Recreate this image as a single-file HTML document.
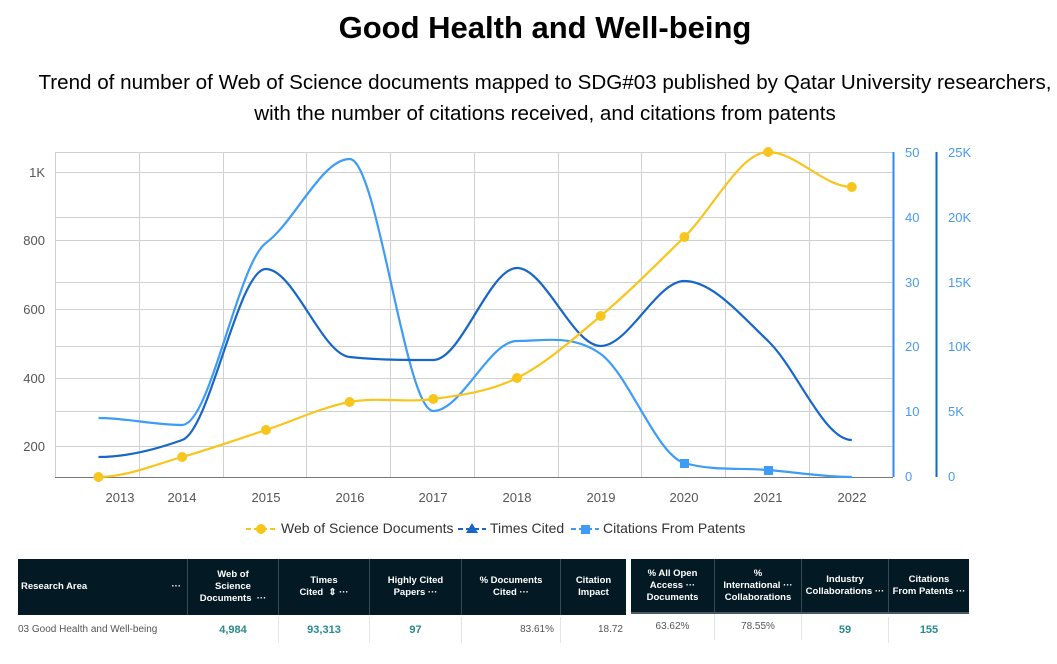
<!DOCTYPE html>
<html><head><meta charset="utf-8"><style>
body{margin:0;width:1057px;height:664px;background:#fff;font-family:"Liberation Sans",sans-serif;overflow:hidden;position:relative}
.t{position:absolute;left:0;width:1090px;text-align:center;color:#000}
.hd{position:absolute;background:#031a24;color:#fff;font-weight:bold;font-size:9.5px;display:flex;align-items:center;justify-content:center;text-align:center;line-height:12px;box-sizing:border-box;border-right:1px solid #3a4a52}
.cell{position:absolute;font-size:10px;color:#555;text-align:center;box-sizing:border-box;border-right:1px solid #e4e4e4;height:26px;line-height:26px}
.g{color:#2a8a8a;font-weight:bold;font-size:11px}
</style></head><body>
<div class="t" style="top:10px;font-size:31px;font-weight:bold">Good Health and Well-being</div>
<div class="t" style="top:67px;font-size:20.6px;line-height:31px">Trend of number of Web of Science documents mapped to SDG#03 published by Qatar University researchers,<br>with the number of citations received, and citations from patents</div>

<svg width="1057" height="550" style="position:absolute;left:0;top:0" font-family="Liberation Sans, sans-serif">
<g stroke="#d0d0d0" stroke-width="1">
<line x1="55" x2="893" y1="152.5" y2="152.5"/><line x1="55" x2="893" y1="217.5" y2="217.5"/><line x1="55" x2="893" y1="282.5" y2="282.5"/><line x1="55" x2="893" y1="346.5" y2="346.5"/><line x1="55" x2="893" y1="411.5" y2="411.5"/>
<line x1="55" x2="893" y1="172.5" y2="172.5"/><line x1="55" x2="893" y1="240.5" y2="240.5"/><line x1="55" x2="893" y1="309.5" y2="309.5"/><line x1="55" x2="893" y1="378.5" y2="378.5"/><line x1="55" x2="893" y1="446.5" y2="446.5"/>
<line x1="55.5" x2="55.5" y1="152" y2="477"/>
<line x1="139.5" x2="139.5" y1="152" y2="477"/><line x1="223.5" x2="223.5" y1="152" y2="477"/><line x1="306.5" x2="306.5" y1="152" y2="477"/><line x1="390.5" x2="390.5" y1="152" y2="477"/><line x1="474.5" x2="474.5" y1="152" y2="477"/><line x1="558.5" x2="558.5" y1="152" y2="477"/><line x1="641.5" x2="641.5" y1="152" y2="477"/><line x1="725.5" x2="725.5" y1="152" y2="477"/><line x1="809.5" x2="809.5" y1="152" y2="477"/>
</g>
<line x1="55" x2="893" y1="477.5" y2="477.5" stroke="#777"/>
<line x1="893.5" x2="893.5" y1="152" y2="477" stroke="#2d8cf0" stroke-width="2"/>
<line x1="936.5" x2="936.5" y1="152" y2="477" stroke="#1766c8" stroke-width="2"/>
<g font-size="13" fill="#555" text-anchor="end">
<text x="45" y="177">1K</text><text x="45" y="245">800</text><text x="45" y="314">600</text><text x="45" y="383">400</text><text x="45" y="451">200</text>
</g>
<g font-size="13" fill="#4a9af0">
<text x="905" y="157">50</text><text x="905" y="222">40</text><text x="905" y="287">30</text><text x="905" y="351">20</text><text x="905" y="416">10</text><text x="905" y="481">0</text>
<text x="948" y="157">25K</text><text x="948" y="222">20K</text><text x="948" y="287">15K</text><text x="948" y="351">10K</text><text x="948" y="416">5K</text><text x="948" y="481">0</text>
</g>
<g font-size="13" fill="#555" text-anchor="middle">
<text x="120" y="502">2013</text><text x="182" y="502">2014</text><text x="266" y="502">2015</text><text x="350" y="502">2016</text><text x="433" y="502">2017</text><text x="517" y="502">2018</text><text x="601" y="502">2019</text><text x="684" y="502">2020</text><text x="768" y="502">2021</text><text x="852" y="502">2022</text>
</g>
<path fill="none" stroke="#3d9cf5" stroke-width="2.2" d="M98.5,418 C126.4,418 154.3,425 182.2,425 C210.1,425 238,263 265.9,243 C293.8,223 321.7,159 349.6,159 C377.5,159 405.4,411 433.3,411 C461.2,411 489.1,341 517,341 C544.9,341 572.8,334 600.7,354 C628.6,374 656.5,455 684.4,463 C712.3,471 740.2,467.7 768.1,470 C796,472.3 823.9,477 851.8,477"/>
<path fill="none" stroke="#1766c8" stroke-width="2.2" d="M98.5,457 C126.4,457 154.3,450 182.2,440 C210.1,430 238,269 265.9,269 C293.8,269 321.7,354 349.6,357 C377.5,360 405.4,360 433.3,360 C461.2,360 489.1,268 517,268 C544.9,268 572.8,346 600.7,346 C628.6,346 656.5,281 684.4,281 C712.3,281 740.2,314.5 768.1,341 C796,367.5 823.9,440 851.8,440"/>
<path fill="none" stroke="#f8c51c" stroke-width="2.2" d="M98.5,477 C126.4,477 154.3,464.8 182.2,457 C210.1,449.2 238,439.2 265.9,430 C293.8,420.8 321.7,407.2 349.6,402 C377.5,396.8 405.4,403 433.3,399 C461.2,395 489.1,391.8 517,378 C544.9,364.2 572.8,339.5 600.7,316 C628.6,292.5 656.5,264.3 684.4,237 C712.3,209.7 740.2,152 768.1,152 C796,152 823.9,187 851.8,187"/>
<g fill="#f8c51c">
<circle cx="98.5" cy="477" r="5"/><circle cx="182.2" cy="457" r="5"/><circle cx="265.9" cy="430" r="5"/><circle cx="349.6" cy="402" r="5"/><circle cx="433.3" cy="399" r="5"/><circle cx="517" cy="378" r="5"/><circle cx="600.7" cy="316" r="5"/><circle cx="684.4" cy="237" r="5"/><circle cx="768.1" cy="152" r="5"/><circle cx="851.8" cy="187" r="5"/>
</g>
<g fill="#3d9cf5"><rect x="680" y="459" width="9" height="9"/><rect x="764" y="466" width="9" height="9"/></g>
<g font-size="14" fill="#333">
<line x1="246" x2="276" y1="529" y2="529" stroke="#f8c51c" stroke-width="2" stroke-dasharray="5,3"/><circle cx="261" cy="529" r="5" fill="#f8c51c"/>
<text x="281" y="533">Web of Science Documents</text>
<line x1="458" x2="486" y1="529" y2="529" stroke="#1766c8" stroke-width="2" stroke-dasharray="5,3"/><path d="M472,523 L478,533 L466,533Z" fill="#1766c8"/>
<text x="490" y="533">Times Cited</text>
<line x1="571" x2="599" y1="529" y2="529" stroke="#3d9cf5" stroke-width="2" stroke-dasharray="5,3"/><rect x="581" y="525" width="9" height="9" fill="#3d9cf5"/>
<text x="603" y="533">Citations From Patents</text>
</g>
</svg>

<div class="hd" style="left:18px;top:559px;width:170px;height:56px;justify-content:space-between;padding:0 6px 0 3px"><span>Research Area</span><span>···</span></div>
<div class="hd" style="left:188px;top:559px;width:91px;height:56px">Web of<br>Science<br>Documents &nbsp;···</div>
<div class="hd" style="left:279px;top:559px;width:91px;height:56px">Times<br>Cited &nbsp;⇕ ···</div>
<div class="hd" style="left:370px;top:559px;width:92px;height:56px">Highly Cited<br>Papers ···</div>
<div class="hd" style="left:462px;top:559px;width:99px;height:56px">% Documents<br>Cited ···</div>
<div class="hd" style="left:561px;top:559px;width:65px;height:56px;border-right:none">Citation<br>Impact</div>
<div class="hd" style="left:631px;top:559px;width:84px;height:53px">% All Open<br>Access ···<br>Documents</div>
<div class="hd" style="left:715px;top:559px;width:87px;height:53px">%<br>International ···<br>Collaborations</div>
<div class="hd" style="left:802px;top:559px;width:87px;height:53px">Industry<br>Collaborations ···</div>
<div class="hd" style="left:889px;top:559px;width:80px;height:53px;border-right:none">Citations<br>From Patents ···</div>
<div style="position:absolute;left:631px;top:612px;width:338px;height:2px;background:#4a5a62"></div>

<div class="cell" style="left:18px;top:617px;width:170px;text-align:left;border:none">03 Good Health and Well-being</div>
<div class="cell g" style="left:188px;top:617px;width:91px">4,984</div>
<div class="cell g" style="left:279px;top:617px;width:91px">93,313</div>
<div class="cell g" style="left:370px;top:617px;width:92px">97</div>
<div class="cell" style="left:462px;top:617px;width:99px;text-align:right;padding-right:6px">83.61%</div>
<div class="cell" style="left:561px;top:617px;width:65px;text-align:right;padding-right:3px;border:none">18.72</div>
<div class="cell" style="left:631px;top:614px;width:84px">63.62%</div>
<div class="cell" style="left:715px;top:614px;width:87px">78.55%</div>
<div class="cell g" style="left:802px;top:617px;width:87px">59</div>
<div class="cell g" style="left:889px;top:617px;width:80px;border:none">155</div>
</body></html>
